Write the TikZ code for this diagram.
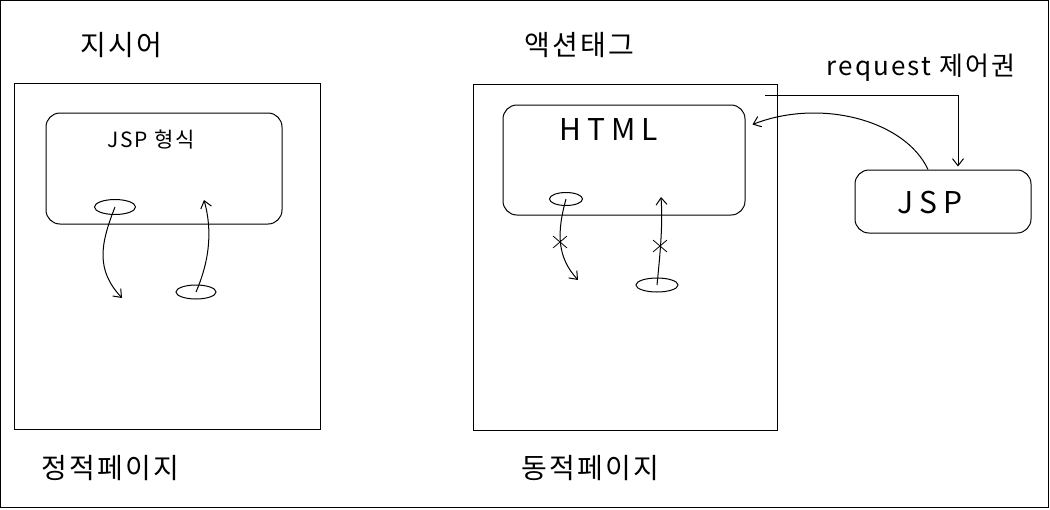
\documentclass[tikz,border=0pt]{standalone}
\usepackage{fontspec}
\setmainfont{Noto Sans CJK KR}
\newfontfamily\widefont[LetterSpace=20]{Noto Sans CJK KR}
\newfontfamily\loosefont[LetterSpace=8]{Noto Sans CJK KR}
\usetikzlibrary{arrows.meta,shapes.geometric,shapes.misc}

\tikzset{
  page/.style={draw,line width=1pt,inner sep=0},
  box/.style={draw,line width=1pt,rounded corners=14pt,inner sep=0},
  blob/.style={draw,ellipse,line width=1pt,inner sep=0},
  nope/.style={draw,cross out,line width=0.8pt,minimum width=13pt,minimum height=11pt,inner sep=0},
  hand/.style={line width=1pt,-{Straight Barb[length=7pt,width=11pt]}},
  big/.style={font=\loosefont\fontsize{28}{30}\selectfont},
}

\begin{document}
\begin{tikzpicture}[x=1pt,y=-1pt]

\useasboundingbox (0,0) rectangle (1050,509);
\draw[line width=1pt] (0.5,0.5) rectangle (1048.5,507.5);

% static page
\node[page,minimum width=306pt,minimum height=346pt] (static) at (167,256) {};
\node[box,minimum width=236pt,minimum height=111pt] (jspform) at (164,168.5) {};
\node[big] (directive) at (121,45) {지시어};
\node[font=\loosefont\fontsize{21}{23}\selectfont] (formlabel) at (151,140) {JSP 형식};
\node[big] (staticlabel) at (110,468) {정적페이지};

\node[blob,minimum width=41pt,minimum height=15pt] (e1) at (115,207) {};
\node[blob,minimum width=40pt,minimum height=14pt] (e2) at (196,292) {};
\coordinate (d1) at (122,298);
\coordinate (u1) at (204,200);

\draw[hand] (e1.center) .. controls (100,245) and (96,270) .. (d1);
\draw[hand] (e2.center) .. controls (212,255) and (211,225) .. (u1);

% dynamic page
\node[page,minimum width=304pt,minimum height=346pt] (dynamic) at (625,257) {};
\node[box,minimum width=242pt,minimum height=110pt] (html) at (624,160) {};
\node[big] (actiontag) at (579,45) {액션태그};
\node[font=\widefont\fontsize{30}{32}\selectfont] (htmllabel) at (609,130) {HTML};
\node[big] (dynlabel) at (590,468) {동적페이지};

\node[blob,minimum width=33pt,minimum height=13pt] (e3) at (566,199) {};
\node[blob,minimum width=42pt,minimum height=14pt] (e4) at (657,285) {};
\coordinate (d2) at (578,280);
\coordinate (u2) at (661,197);
\node[nope] (x1) at (560,242) {};
\node[nope] (x2) at (660,246) {};

\draw[hand] (e3.center) .. controls (556,235) and (558,258) .. (d2);
\draw[hand] (e4.center) .. controls (660,255) and (663,225) .. (u2);

% jsp
\node[box,minimum width=176pt,minimum height=63pt] (jsp) at (943,201.5) {};
\node[font=\widefont\fontsize{30}{32}\selectfont] (jsplabel) at (930,203) {JSP};
\node[font=\loosefont\fontsize{26}{28}\selectfont] (request) at (921,68) {request 제어권};

\coordinate (rq) at (765,95);
\draw[hand,shorten >=3pt] (rq) -| ([xshift=15pt]jsp.north);
\draw[hand] ([xshift=-15pt]jsp.north) .. controls (905,120) and (820,98) .. ([xshift=7pt,yshift=-20pt]html.north east);

\end{tikzpicture}
\end{document}
